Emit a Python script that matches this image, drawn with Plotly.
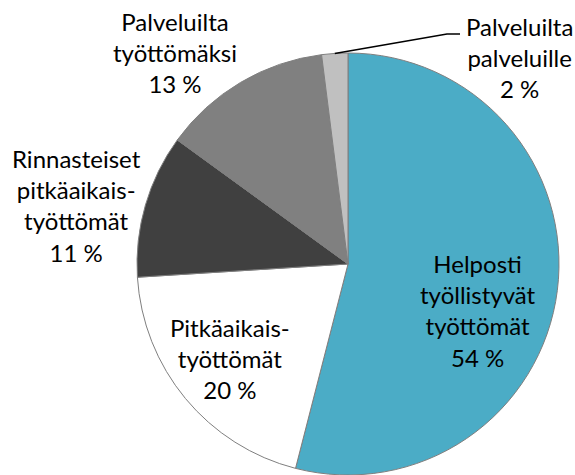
import math
import plotly.graph_objects as go

W, H = 575, 475

labels = ["Helposti<br>työllistyvät<br>työttömät",
          "Pitkäaikais-<br>työttömät",
          "Rinnasteiset<br>pitkäaikais-<br>työttömät",
          "Palveluilta<br>työttömäksi",
          "Palveluilta<br>palveluille"]
values = [54, 20, 11, 13, 2]
colors = ["#4BACC6", "#FFFFFF", "#404040", "#808080", "#C0C0C0"]

# label block centres (pixels)
label_pos = [(478, 310), (230, 358), (77, 205), (175, 53), (519, 57)]

cx, cy, r = 348, 264, 211

fig = go.Figure()
fig.add_trace(go.Pie(
    labels=[l.replace("<br>", " ") for l in labels],
    values=values,
    sort=False,
    direction="clockwise",
    rotation=0,
    marker=dict(colors=colors, line=dict(color="#7F7F7F", width=1)),
    textinfo="none",
    hoverinfo="label+percent",
    showlegend=False,
    domain=dict(x=[(cx - r) / W, (cx + r) / W], y=[1 - (cy + r) / H, 1 - (cy - r) / H]),
))

font = dict(family="Lato, Carlito, Calibri, sans-serif", size=24, color="#000000")
for lab, v, (x, y) in zip(labels, values, label_pos):
    fig.add_annotation(
        x=x / W, y=1 - y / H, xref="paper", yref="paper",
        text=f"{lab}<br>{v} %", showarrow=False, font=font,
        xanchor="center", yanchor="middle", align="center",
    )

# leader line for the smallest slice
total = sum(values)
start = sum(values[:4]) / total * 360
mid = start + values[4] / total * 360 / 2
sx = cx + r * math.sin(math.radians(mid))
sy = cy - r * math.cos(math.radians(mid))
pts = [(sx, sy), (447, 34), (460, 34)]
path = "M " + " L ".join(f"{px / W},{1 - py / H}" for px, py in pts)
fig.add_shape(type="path", path=path, xref="paper", yref="paper",
              line=dict(color="#000000", width=1.5))

fig.update_layout(
    width=W, height=H,
    margin=dict(l=0, r=0, t=0, b=0),
    paper_bgcolor="#FFFFFF", plot_bgcolor="#FFFFFF",
)
fig.write_html("out.html",
               config={"displayModeBar": False},
               post_script="document.body.style.margin='0';document.body.style.overflow='hidden';")
